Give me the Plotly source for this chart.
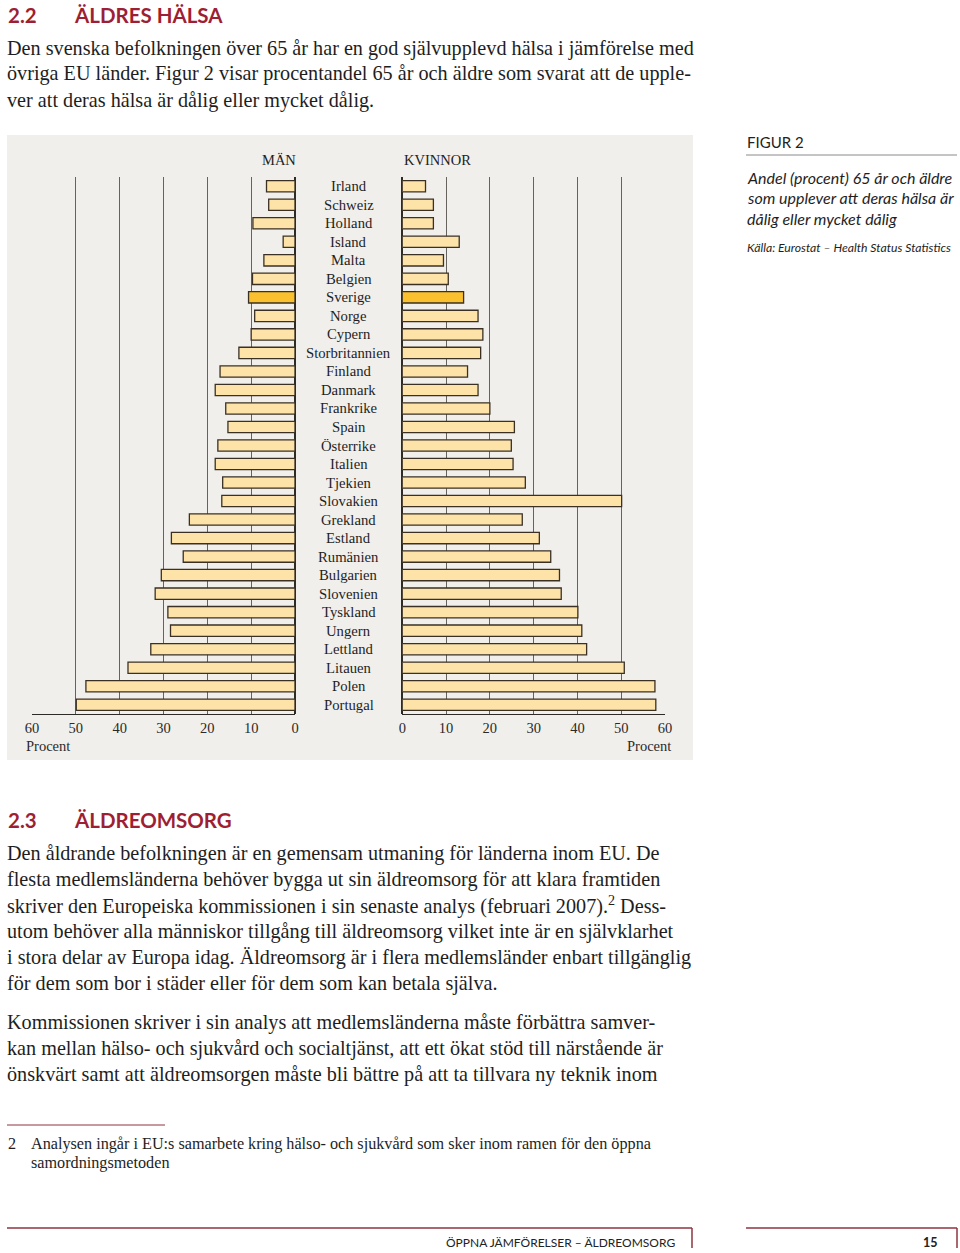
import plotly.graph_objects as go

W, H = 960, 1253

countries = ["Irland", "Schweiz", "Holland", "Island", "Malta", "Belgien", "Sverige", "Norge",
             "Cypern", "Storbritannien", "Finland", "Danmark", "Frankrike", "Spain", "Österrike",
             "Italien", "Tjekien", "Slovakien", "Grekland", "Estland", "Rumänien", "Bulgarien",
             "Slovenien", "Tyskland", "Ungern", "Lettland", "Litauen", "Polen", "Portugal"]
man = [6.5, 6.0, 9.6, 2.7, 7.1, 9.7, 10.6, 9.2, 10.0, 12.8, 17.1, 18.2, 15.8, 15.3, 17.6,
       18.2, 16.5, 16.7, 24.1, 28.2, 25.5, 30.5, 31.9, 29.0, 28.4, 32.9, 38.1, 47.7, 49.9]
kvinnor = [5.3, 7.1, 7.1, 13.0, 9.4, 10.5, 14.0, 17.3, 18.4, 17.9, 14.9, 17.3, 20.0, 25.6, 24.9,
           25.3, 28.1, 50.1, 27.4, 31.3, 33.9, 35.9, 36.3, 40.1, 41.0, 42.1, 50.7, 57.7, 57.9]
highlight = "Sverige"
tickvals = [0, 10, 20, 30, 40, 50, 60]

SERIF = "Liberation Serif"
SANS = "Lato"
RED = "#9e1f33"
LINE_RED = "#8e3440"
BODY = 20.2

def px(x):
    return x / W

def py(y):
    return 1 - y / H

bar_fill = ["#fbc02d" if c == highlight else "#fde3a8" for c in countries]
bar_line = dict(color="#3a3124", width=1.3)

fig = go.Figure()
fig.add_trace(go.Bar(y=countries, x=man, orientation="h", xaxis="x", yaxis="y",
                     marker=dict(color=bar_fill, line=bar_line), showlegend=False,
                     hoverinfo="x+y"))
fig.add_trace(go.Bar(y=countries, x=kvinnor, orientation="h", xaxis="x2", yaxis="y2",
                     marker=dict(color=bar_fill, line=bar_line), showlegend=False,
                     hoverinfo="x+y"))

ydom = [py(714), py(177)]
axis_common = dict(
    tickvals=tickvals, ticks="", showgrid=True, gridcolor="#66625d", gridwidth=1.1,
    zeroline=True, zerolinecolor="#2e2a25", zerolinewidth=1.5,
    showline=True, linecolor="#2e2a25", linewidth=1.2, automargin=False,
    tickfont=dict(family=SERIF, size=14.5, color="#2a2a2a"), fixedrange=True,
)
ycommon = dict(type="category", categoryorder="array", categoryarray=countries,
               range=[len(countries) - 0.5, -0.5], showticklabels=False, ticks="",
               showgrid=False, zeroline=False, showline=False, domain=ydom, fixedrange=True,
               automargin=False)

fig.update_layout(
    width=W, height=H, margin=dict(l=0, r=0, t=0, b=0, pad=0, autoexpand=False),
    paper_bgcolor="white", plot_bgcolor="rgba(0,0,0,0)",
    bargap=0.39,
    xaxis=dict(domain=[px(32), px(295)], range=[60, 0], anchor="y", **axis_common),
    yaxis=dict(anchor="x", **ycommon),
    xaxis2=dict(domain=[px(402.3), px(665)], range=[0, 60], anchor="y2", **axis_common),
    yaxis2=dict(anchor="x2", **ycommon),
)

shapes = [
    dict(type="rect", xref="paper", yref="paper", x0=px(7), x1=px(693), y0=py(760), y1=py(135),
         fillcolor="#f1efec", line=dict(width=0), layer="below"),
    dict(type="line", xref="paper", yref="paper", x0=px(746), x1=px(957), y0=py(155), y1=py(155),
         line=dict(color="#8a8a8a", width=1)),
    dict(type="line", xref="paper", yref="paper", x0=px(7), x1=px(165), y0=py(1125), y1=py(1125),
         line=dict(color=LINE_RED, width=1)),
    dict(type="line", xref="paper", yref="paper", x0=px(7), x1=px(692), y0=py(1228), y1=py(1228),
         line=dict(color=LINE_RED, width=1.5)),
    dict(type="line", xref="paper", yref="paper", x0=px(692), x1=px(692), y0=py(1228), y1=py(1248),
         line=dict(color=LINE_RED, width=1.5)),
    dict(type="line", xref="paper", yref="paper", x0=px(746), x1=px(957), y0=py(1228), y1=py(1228),
         line=dict(color=LINE_RED, width=1.5)),
    dict(type="line", xref="paper", yref="paper", x0=px(957), x1=px(957), y0=py(1228), y1=py(1248),
         line=dict(color=LINE_RED, width=1.5)),
]
fig.update_layout(shapes=shapes)

ann = []

def text(x, y, s, size, family=SERIF, color="#1e1e1e", xanchor="left", **kw):
    ann.append(dict(xref="paper", yref="paper", x=px(x), y=py(y), text=s, showarrow=False,
                    xanchor=xanchor, yanchor="middle", font=dict(family=family, size=size, color=color),
                    **kw))

for c in countries:
    ann.append(dict(xref="paper", yref="y", x=px(348.5), y=c, text=c, showarrow=False,
                    xanchor="center", yanchor="middle",
                    font=dict(family=SERIF, size=14.7, color="#1e1e1e")))

text(279, 160, "MÄN", 14.5, xanchor="center", color="#222")
text(437, 160, "KVINNOR", 14.5, xanchor="center", color="#222")
text(24, 746, "Procent", 14.5, color="#2a2a2a")
text(673, 746, "Procent", 14.5, xanchor="right", color="#2a2a2a")

text(6, 15, "<b>2.2</b>", 20.5, family=SANS, color=RED)
text(72, 15, "<b>ÄLDRES HÄLSA</b>", 20.5, family=SANS, color=RED)
text(6, 820, "<b>2.3</b>", 20.5, family=SANS, color=RED)
text(72, 820, "<b>ÄLDREOMSORG</b>", 20.5, family=SANS, color=RED)

intro = ["Den svenska befolkningen över 65 år har en god självupplevd hälsa i jämförelse med",
         "övriga EU länder. Figur 2 visar procentandel 65 år och äldre som svarat att de upple-",
         "ver att deras hälsa är dålig eller mycket dålig."]
for i, s in enumerate(intro):
    text(5, 48 + 26 * i, s, BODY)

body1 = ["Den åldrande befolkningen är en gemensam utmaning för länderna inom EU. De",
         "flesta medlemsländerna behöver bygga ut sin äldreomsorg för att klara framtiden",
         "skriver den Europeiska kommissionen i sin senaste analys (februari 2007).<sup>2</sup> Dess-",
         "utom behöver alla människor tillgång till äldreomsorg vilket inte är en självklarhet",
         "i stora delar av Europa idag. Äldreomsorg är i flera medlemsländer enbart tillgänglig",
         "för dem som bor i städer eller för dem som kan betala själva."]
for i, s in enumerate(body1):
    text(5, 853 + 26 * i, s, BODY)

body2 = ["Kommissionen skriver i sin analys att medlemsländerna måste förbättra samver-",
         "kan mellan hälso- och sjukvård och socialtjänst, att ett ökat stöd till närstående är",
         "önskvärt samt att äldreomsorgen måste bli bättre på att ta tillvara ny teknik inom"]
for i, s in enumerate(body2):
    text(5, 1022 + 26.3 * i, s, BODY)

text(745, 142, "FIGUR 2", 15, family=SANS, color="#222")
cap = ["Andel (procent) 65 år och äldre", "som upplever att deras hälsa är", "dålig eller mycket dålig"]
for i, s in enumerate(cap):
    text(745, 177 + 20.5 * i, "<i>" + s + "</i>", 16, family=SANS, color="#1e1e1e")
text(745, 248, "<i>Källa: Eurostat – Health Status Statistics</i>", 12.2, family=SANS, color="#1e1e1e")

text(6, 1144, "2", 16.2)
text(29, 1144, "Analysen ingår i EU:s samarbete kring hälso- och sjukvård som sker inom ramen för den öppna", 16.2)
text(29, 1163, "samordningsmetoden", 16.2)

text(677, 1242, "ÖPPNA JÄMFÖRELSER – ÄLDREOMSORG", 12, family=SANS, xanchor="right", color="#222")
text(940, 1242, "<b>15</b>", 12.5, family=SANS, xanchor="right", color="#222")

fig.update_layout(annotations=ann)
fig.write_html("out.html")
